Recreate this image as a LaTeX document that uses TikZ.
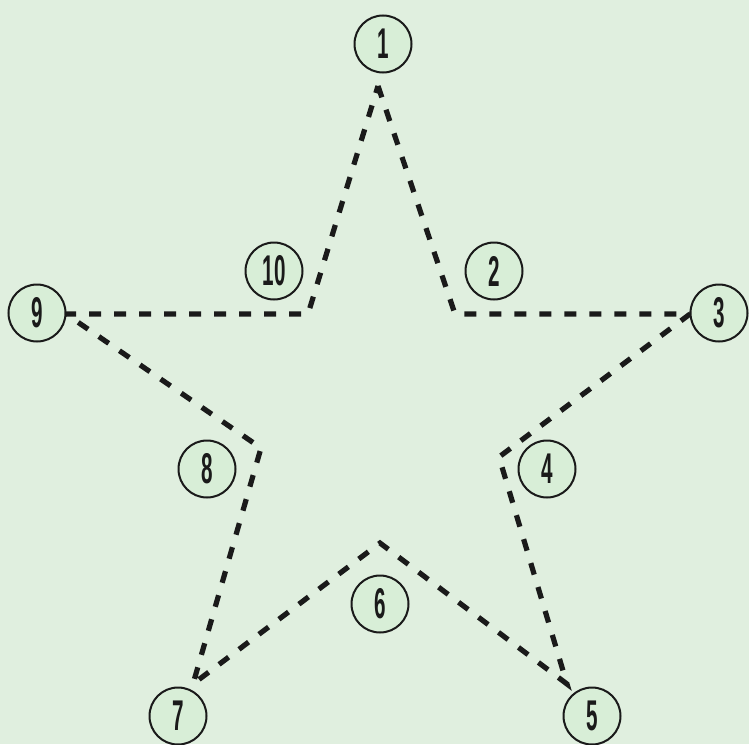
\documentclass[tikz,border=0pt]{standalone}
\usepackage{fontspec}
\newfontfamily\numfont[FakeStretch=0.48]{Liberation Sans Bold}
\definecolor{bgc}{HTML}{E0EFDF}
\definecolor{cfill}{HTML}{D8EED7}
\definecolor{ink}{HTML}{1A1A1A}
\begin{document}
\begin{tikzpicture}[x=1pt,y=-1pt,
  num/.style={circle,draw=ink,line width=2pt,fill=cfill,minimum size=57pt,inner sep=0pt,font=\numfont\fontsize{43}{43}\selectfont,text=ink},
  starline/.style={draw=ink,line width=5.2pt,dash pattern=on 12pt off 13pt}]
\fill[bgc] (0,0) rectangle (749,744);
\useasboundingbox (0,0) rectangle (749,744);
% star vertices
\coordinate (p1) at (378,86);
\coordinate (q1) at (455,314);
\coordinate (p2) at (690,314);
\coordinate (q2) at (499,457);
\coordinate (p3) at (567,684);
\coordinate (q3) at (380,543);
\coordinate (p4) at (193,684);
\coordinate (q4) at (261,448);
\coordinate (p5) at (66,314);
\coordinate (q5) at (308,314);
\draw[starline] (p1) -- (q1) -- (p2) -- (q2) -- (p3) -- (q3) -- (p4) -- (q4) -- (p5) -- (q5) -- cycle;
% numbered circles
\node[num] (n1) at (383,44) {1};
\node[num] (n2) at (494,271) {2};
\node[num] (n3) at (719,313) {3};
\node[num] (n4) at (547,469) {4};
\node[num] (n5) at (592,716) {5};
\node[num] (n6) at (380,604) {6};
\node[num] (n7) at (178,716) {7};
\node[num] (n8) at (207,469) {8};
\node[num] (n9) at (37,313) {9};
\node[num] (n10) at (274,271) {10};
\end{tikzpicture}
\end{document}
